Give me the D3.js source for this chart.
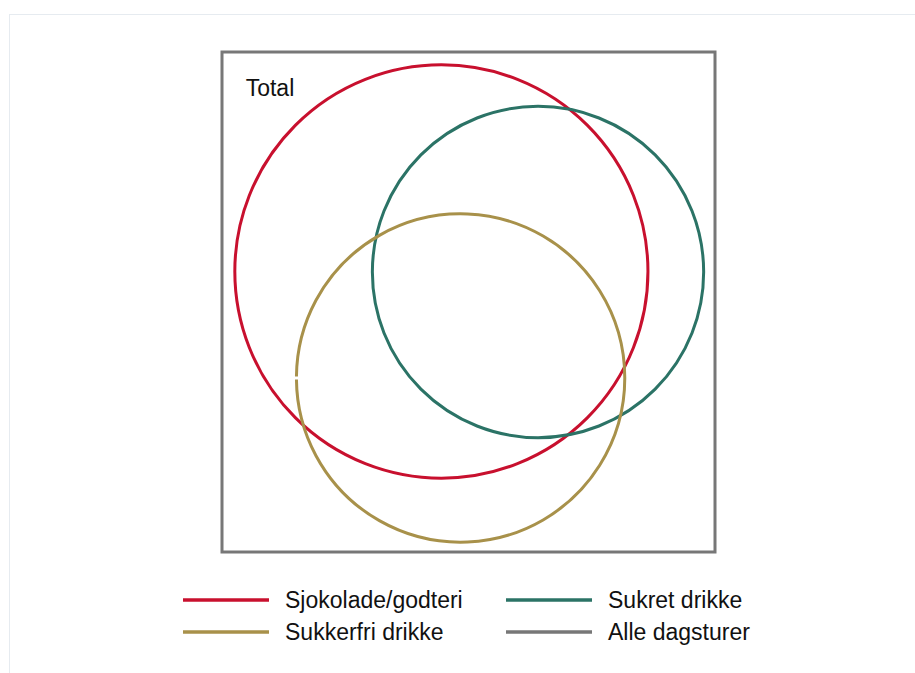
<!DOCTYPE html>
<html>
<head>
<meta charset="utf-8">
<script src="https://cdn.jsdelivr.net/npm/d3@7"></script>
<style>
  html, body { margin: 0; padding: 0; background: #fff; }
  svg { display: block; font-family: "Liberation Sans", Arial, sans-serif; }
</style>
</head>
<body>
<svg id="chart" width="915" height="673"></svg>
<script>
// sets shown in the diagram (units: percent of the "Total" box)
var setNames = ["Sjokolade/godteri", "Sukret drikke", "Sukkerfri drikke"];
var setCx = [44.5, 64.1, 48.4];
var setCy = [43.9, 44.0, 65.2];
var setR = [41.9, 33.6, 33.3];
var totalName = "Alle dagsturer";
var totalLabel = "Total";

var colors = {
  "Sjokolade/godteri": "#c8102e",
  "Sukret drikke": "#2b7366",
  "Sukkerfri drikke": "#a8914a",
  "Alle dagsturer": "#777777"
};

var svg = d3.select("#chart");

// faint page frame
svg.append("rect")
  .attr("x", 9.5).attr("y", 14.5)
  .attr("width", 930).attr("height", 700)
  .attr("fill", "none")
  .attr("stroke", "#e6ebf0");

var box = {left: 222, top: 52, right: 715, bottom: 552};
var x = d3.scaleLinear().domain([0, 100]).range([box.left, box.right]);
var y = d3.scaleLinear().domain([0, 100]).range([box.top, box.bottom]);
var rScale = d3.scaleLinear().domain([0, 100]).range([0, box.right - box.left]);

// universe box
svg.append("rect")
  .attr("x", x(0)).attr("y", y(0))
  .attr("width", x(100) - x(0)).attr("height", y(100) - y(0))
  .attr("fill", "none")
  .attr("stroke", colors[totalName])
  .attr("stroke-width", 3);

svg.append("text")
  .attr("x", x(4.8)).attr("y", y(8.7))
  .attr("font-size", 23)
  .attr("fill", "#111")
  .text(totalLabel);

var sets = setNames.map(function (n, i) {
  return {name: n, cx: setCx[i], cy: setCy[i], r: setR[i]};
});

// circles drawn as arcs (small seam left where the path starts, like the original)
svg.selectAll("path.set")
  .data(sets)
  .enter().append("path")
  .attr("class", "set")
  .attr("d", function (d, i) {
    var p = d3.path();
    var cx = x(d.cx), cy = y(d.cy), r = rScale(d.r);
    if (i === 2) {
      var a0 = Math.PI + 0.009;
      p.moveTo(cx + r * Math.cos(a0), cy + r * Math.sin(a0));
      p.arc(cx, cy, r, a0, a0 + 2 * Math.PI - 0.018);
    } else {
      p.moveTo(cx + r, cy);
      p.arc(cx, cy, r, 0, 2 * Math.PI);
      p.closePath();
    }
    return p.toString();
  })
  .attr("fill", "none")
  .attr("stroke", function (d) { return colors[d.name]; })
  .attr("stroke-width", 3);

// legend
var legendItems = [setNames[0], setNames[1], setNames[2], totalName];
var legend = svg.selectAll("g.legend")
  .data(legendItems)
  .enter().append("g")
  .attr("class", "legend")
  .attr("transform", function (d, i) {
    var col = i % 2, row = Math.floor(i / 2);
    return "translate(" + (183 + col * 323) + "," + (600 + row * 32) + ")";
  });

legend.append("line")
  .attr("x1", 0).attr("x2", 86)
  .attr("y1", 0).attr("y2", 0)
  .attr("stroke", function (d) { return colors[d]; })
  .attr("stroke-width", 3.5);

legend.append("text")
  .attr("x", 102).attr("y", 8)
  .attr("font-size", 23)
  .attr("fill", "#111")
  .text(function (d) { return d; });
</script>
</body>
</html>
